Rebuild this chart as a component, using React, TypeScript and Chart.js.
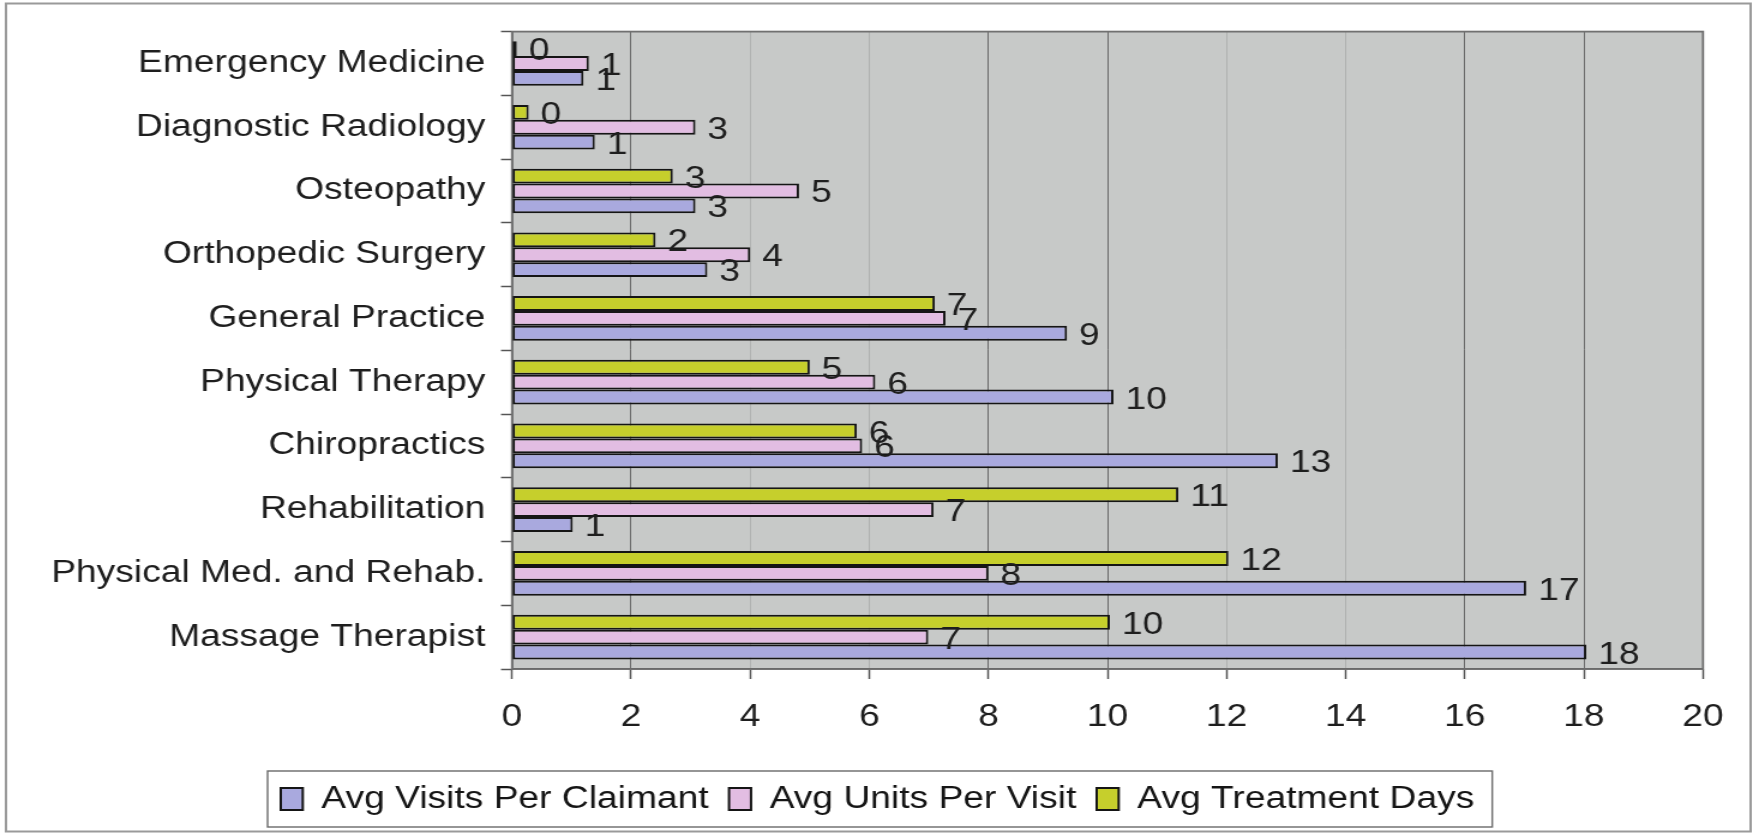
import React, { useEffect, useRef } from 'react';
import { Chart, registerables } from 'chart.js';

Chart.register(...registerables);

const categories = [
  'Emergency Medicine',
  'Diagnostic Radiology',
  'Osteopathy',
  'Orthopedic Surgery',
  'General Practice',
  'Physical Therapy',
  'Chiropractics',
  'Rehabilitation',
  'Physical Med. and Rehab.',
  'Massage Therapist',
];

const seriesNames = ['Avg Visits Per Claimant', 'Avg Units Per Visit', 'Avg Treatment Days'];

const visitsPerClaimant = [1.2, 1.39, 3.08, 3.28, 9.32, 10.1, 12.86, 1.02, 17.03, 18.04];
const unitsPerVisit = [1.29, 3.08, 4.82, 4.0, 7.28, 6.1, 5.88, 7.08, 8.0, 6.99];
const treatmentDays = [0.08, 0.28, 2.7, 2.41, 7.1, 5.0, 5.79, 11.19, 12.03, 10.04];

const xTickValues = [0, 2, 4, 6, 8, 10, 12, 14, 16, 18, 20];
const strongGridValues = [2, 8, 10, 16, 18];

const FONT = "'Liberation Sans', Arial, sans-serif";

// The reference is horizontally stretched; the chart is drawn narrower and widened by CSS.
const VIEW_W = 1753;
const VIEW_H = 833;
const LOGICAL_W = 1461;
const SX = VIEW_W / LOGICAL_W;
const LEGEND_CENTER = 877.5 / SX;

const framePlugin = {
  id: 'frame',
  afterLayout(chart: any) {
    const lg = chart.legend;
    if (lg) {
      const shift = LEGEND_CENTER - (lg.left + lg.right) / 2;
      lg.left += shift;
      lg.right += shift;
    }
  },
  beforeDraw(chart: any) {
    const { ctx, chartArea: a } = chart;
    ctx.save();
    ctx.fillStyle = '#ffffff';
    ctx.fillRect(0, 0, chart.width, chart.height);
    ctx.fillStyle = '#c7c9c8';
    ctx.fillRect(a.left, a.top, a.right - a.left, a.bottom - a.top);
    ctx.restore();
  },
  beforeDatasetsDraw(chart: any) {
    const { ctx, chartArea: a } = chart;
    ctx.save();
    ctx.strokeStyle = '#707070';
    ctx.lineWidth = 1.8;
    ctx.strokeRect(a.left, a.top, a.right - a.left, a.bottom - a.top);
    ctx.restore();
  },
  afterDatasetsDraw(chart: any) {
    const { ctx } = chart;
    ctx.save();
    ctx.font = `31px ${FONT}`;
    ctx.fillStyle = '#1e1e1e';
    ctx.textAlign = 'left';
    ctx.textBaseline = 'middle';
    chart.data.datasets.forEach((ds: any, i: number) => {
      const meta = chart.getDatasetMeta(i);
      meta.data.forEach((bar: any, j: number) => {
        const v = ds.data[j];
        ctx.fillText(String(Math.round(v)), bar.x + 10, bar.y + 3);
      });
    });
    ctx.restore();
  },
  afterDraw(chart: any) {
    const { ctx } = chart;
    ctx.save();
    const hb = chart.legend && chart.legend.legendHitBoxes;
    if (hb && hb.length) {
      let minL = Infinity;
      let maxR = -Infinity;
      let cy = 0;
      hb.forEach((h: any) => {
        minL = Math.min(minL, h.left);
        maxR = Math.max(maxR, h.left + h.width);
        cy = h.top + h.height / 2;
      });
      ctx.strokeStyle = '#6a6a6a';
      ctx.lineWidth = 1.4;
      ctx.strokeRect(minL - 11, cy - 28, maxR - minL + 11 + 15, 56);
    }
    ctx.strokeStyle = '#9a9a9a';
    ctx.lineWidth = 2;
    ctx.strokeRect(5, 3.5, chart.width - 7, chart.height - 5);
    ctx.restore();
  },
};

export default function App() {
  const canvasRef = useRef<HTMLCanvasElement | null>(null);

  useEffect(() => {
    if (!canvasRef.current) return;
    const chart = new Chart(canvasRef.current, {
      type: 'bar',
      data: {
        labels: categories,
        datasets: [
          { label: seriesNames[2], data: treatmentDays, backgroundColor: '#c6cf2c' },
          { label: seriesNames[1], data: unitsPerVisit, backgroundColor: '#e2bde2' },
          { label: seriesNames[0], data: visitsPerClaimant, backgroundColor: '#a9a9de' },
        ].map((d) => ({
          ...d,
          borderColor: '#151515',
          borderWidth: 2,
          borderSkipped: false,
          barPercentage: 1,
          categoryPercentage: 0.7,
        })),
      },
      options: {
        indexAxis: 'y',
        responsive: true,
        maintainAspectRatio: false,
        animation: false,
        layout: { padding: { left: 0, right: LOGICAL_W - 1703 / SX, top: 28.5, bottom: 8.5 } },
        plugins: {
          legend: {
            position: 'bottom',
            reverse: true,
            labels: {
              boxWidth: 22 / SX,
              boxHeight: 22,
              padding: 17,
              color: '#151515',
              font: { family: FONT, size: 31 },
            },
          },
          tooltip: { enabled: false },
        },
        scales: {
          x: {
            type: 'linear',
            position: 'bottom',
            min: 0,
            max: 20,
            afterBuildTicks: (s: any) => {
              s.ticks = xTickValues.map((v) => ({ value: v }));
            },
            afterFit: (s: any) => {
              s.height = 97.5;
            },
            ticks: {
              padding: 20,
              color: '#1e1e1e',
              font: { family: FONT, size: 31 },
            },
            grid: {
              color: (c: any) =>
                c.tick && strongGridValues.includes(c.tick.value) ? '#6a6a6a' : '#b0b2b1',
              lineWidth: 1,
              tickLength: 10,
              tickColor: '#555555',
              tickWidth: 1.5,
            },
            border: { display: true, color: '#333333', width: 1.5 },
          },
          y: {
            type: 'category',
            position: 'left',
            offset: true,
            afterFit: (s: any) => {
              s.width = 512 / SX;
            },
            ticks: {
              padding: 13,
              autoSkip: false,
              color: '#1e1e1e',
              font: { family: FONT, size: 31 },
            },
            grid: {
              drawOnChartArea: false,
              drawTicks: true,
              tickLength: 11 / SX,
              tickColor: '#555555',
              tickWidth: 1.5,
              offset: true,
            },
            border: { display: true, color: '#333333', width: 1.5 },
          },
        },
      } as any,
      plugins: [framePlugin as any],
    });
    return () => chart.destroy();
  }, []);

  return (
    <div
      style={{
        position: 'fixed',
        left: 0,
        top: 0,
        width: VIEW_W,
        height: VIEW_H,
        overflow: 'hidden',
        background: '#ffffff',
      }}
    >
      <div
        style={{
          width: LOGICAL_W,
          height: VIEW_H,
          transform: `scaleX(${SX})`,
          transformOrigin: '0 0',
        }}
      >
        <canvas ref={canvasRef} style={{ display: 'block' }} />
      </div>
    </div>
  );
}
